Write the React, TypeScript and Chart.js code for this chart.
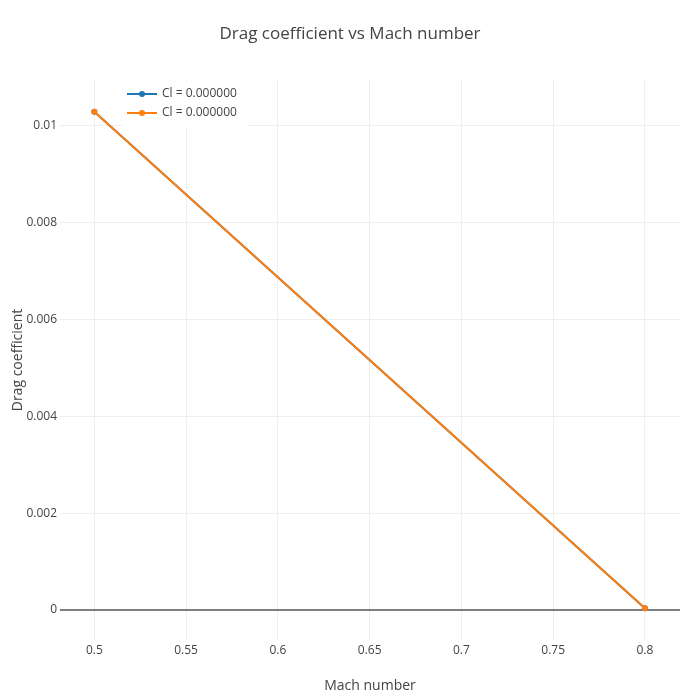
import React, { useEffect, useRef } from 'react';
import { Chart, registerables } from 'chart.js';

Chart.register(...registerables);

const machNumbers = [0.5, 0.8];
const dragSeriesA = [0.01029, 0.000035];
const dragSeriesB = [0.01029, 0.000035];
const seriesLabels = ['Cl = 0.000000', 'Cl = 0.000000'];
const seriesColors = ['#1f77b4', '#ff7f0e'];
const titleText = 'Drag coefficient vs Mach number';
const xTitle = 'Mach number';
const yTitle = 'Drag coefficient';
const xRange = [0.4813, 0.8191];
const yRange = [-0.000619, 0.010944];

const FONT = '"Open Sans", Verdana, sans-serif';
const TEXT = '#444';

const overlayPlugin = {
  id: 'overlay',
  afterDraw(chart: any) {
    const ctx = chart.ctx;
    ctx.save();
    // title
    ctx.fillStyle = TEXT;
    ctx.font = `17px ${FONT}`;
    ctx.textAlign = 'center';
    ctx.textBaseline = 'middle';
    ctx.fillText(titleText, chart.width / 2, 34);
    // legend
    ctx.fillStyle = '#fff';
    ctx.fillRect(122, 82, 125, 46);
    const rows = [94, 113];
    seriesLabels.forEach((lab, i) => {
      const y = rows[i];
      ctx.strokeStyle = seriesColors[i];
      ctx.lineWidth = 2;
      ctx.beginPath();
      ctx.moveTo(127, y);
      ctx.lineTo(157, y);
      ctx.stroke();
      ctx.fillStyle = seriesColors[i];
      ctx.beginPath();
      ctx.arc(142, y, 3, 0, Math.PI * 2);
      ctx.fill();
      ctx.fillStyle = TEXT;
      ctx.font = `12px ${FONT}`;
      ctx.textAlign = 'left';
      ctx.textBaseline = 'middle';
      ctx.fillText(lab, 162, y);
    });
    ctx.restore();
  },
};

export default function App() {
  const ref = useRef<HTMLCanvasElement>(null);
  useEffect(() => {
    if (!ref.current) return;
    const mk = (ys: number[], i: number) => ({
      label: seriesLabels[i],
      data: machNumbers.map((x, k) => ({ x, y: ys[k] })),
      order: 1 - i,
      borderColor: seriesColors[i],
      backgroundColor: seriesColors[i],
      borderWidth: 2,
      pointRadius: 3,
      pointBorderWidth: 0,
      pointBackgroundColor: seriesColors[i],
      showLine: true,
      tension: 0,
      fill: false,
    });
    const chart = new Chart(ref.current, {
      type: 'line',
      data: { datasets: [mk(dragSeriesA, 0), mk(dragSeriesB, 1)] },
      options: {
        animation: false,
        responsive: false,
        layout: { padding: { top: 80, right: 20, bottom: 0, left: 0 } },
        plugins: { legend: { display: false }, title: { display: false }, tooltip: { enabled: false } },
        scales: {
          x: {
            type: 'linear',
            min: xRange[0],
            max: xRange[1],
            afterFit: (s: any) => { s.height = 60; },
            border: { display: false },
            grid: { color: '#eee', lineWidth: 1, drawTicks: false },
            ticks: {
              stepSize: 0.05,
              includeBounds: false,
              padding: 3,
              color: TEXT,
              font: { family: FONT, size: 12 },
              maxRotation: 0,
              callback: (v: any) => String(+Number(v).toFixed(3)),
            },
            title: { display: true, text: xTitle, color: TEXT, font: { family: FONT, size: 14 }, padding: { top: 0, bottom: 6 } },
          },
          y: {
            type: 'linear',
            min: yRange[0],
            max: yRange[1],
            afterFit: (s: any) => { s.width = 60; },
            border: { display: false },
            grid: {
              color: (c: any) => (c.tick && c.tick.value === 0 ? '#7f7f7f' : '#eee'),
              lineWidth: (c: any) => (c.tick && c.tick.value === 0 ? 2 : 1),
              drawTicks: false,
            },
            ticks: {
              stepSize: 0.002,
              includeBounds: false,
              padding: 3,
              color: TEXT,
              font: { family: FONT, size: 12 },
              callback: (v: any) => String(+Number(v).toFixed(4)),
            },
            title: { display: true, text: yTitle, color: TEXT, font: { family: FONT, size: 14 }, padding: { top: 10, bottom: 0 } },
          },
        },
      },
      plugins: [overlayPlugin],
    } as any);
    return () => chart.destroy();
  }, []);
  return (
    <div style={{ position: 'fixed', left: 0, top: 0, width: 700, height: 700, background: '#fff' }}>
      <canvas ref={ref} width={700} height={700} style={{ display: 'block', width: 700, height: 700 }} />
    </div>
  );
}
